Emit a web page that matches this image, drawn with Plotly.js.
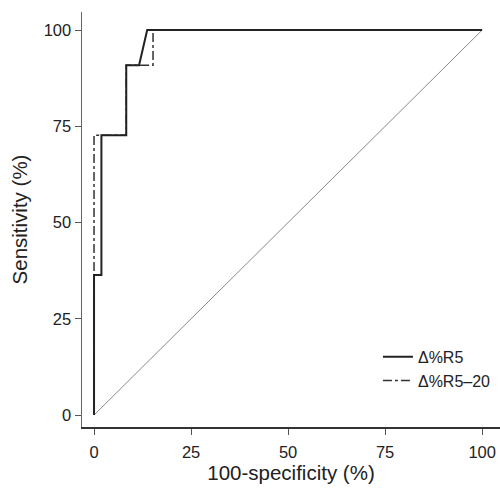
<!DOCTYPE html>
<html>
<head>
<meta charset="utf-8">
<script src="https://cdn.plot.ly/plotly-3.0.1.min.js"></script>
<style>html,body{margin:0;padding:0;background:#fff;}#chart{width:500px;height:490px;}</style>
</head>
<body>
<div id="chart"></div>
<script>
// Δ%R5 ROC curve
const r5X = [0, 0, 1.9, 1.9, 8.3, 8.3, 11.6, 13.7, 100];
const r5Y = [0, 36.4, 36.4, 72.7, 72.7, 90.9, 90.9, 100, 100];
// Δ%R5–20 ROC curve
const r520X = [0, 0, 8.3, 8.3, 15.2, 15.2, 100];
const r520Y = [0, 72.7, 72.7, 90.9, 90.9, 100, 100];
// reference diagonal
const refX = [0, 100];
const refY = [0, 100];
const tickVals = [0, 25, 50, 75, 100];
const tickText = ['0', '25', '50', '75', '100'];

const traces = [
  {x: refX, y: refY, mode: 'lines', line: {color: '#8a8a8a', width: 1}, showlegend: false, hoverinfo: 'skip'},
  {x: r520X, y: r520Y, mode: 'lines', name: 'Δ%R5–20', line: {color: '#333', width: 1.5, dash: 'dashdot'}},
  {x: r5X, y: r5Y, mode: 'lines', name: 'Δ%R5', line: {color: '#222', width: 2}}
];

const axisCommon = {
  showgrid: false, zeroline: false, showline: true, linewidth: 1.5,
  ticks: 'outside', ticklen: 6, tickwidth: 1, tickcolor: '#555',
  tickfont: {family: 'Liberation Sans, Arial, sans-serif', size: 16.5, color: '#222'},
  tickvals: tickVals, ticktext: tickText
};

const layout = {
  width: 500, height: 490,
  margin: {l: 82, r: 0, t: 12, b: 63},
  paper_bgcolor: '#fff', plot_bgcolor: '#fff',
  font: {family: 'Liberation Sans, Arial, sans-serif', color: '#222'},
  xaxis: Object.assign({}, axisCommon, {
    range: [-3.1, 104.6], linecolor: '#333', ticklabelstandoff: 4,
    title: {text: '100-specificity (%)', font: {size: 20.5, color: '#222'}, standoff: 4}
  }),
  yaxis: Object.assign({}, axisCommon, {
    range: [-3.1, 104.7], linecolor: '#666',
    title: {text: 'Sensitivity (%)', font: {size: 20.5, color: '#222'}, standoff: 10}
  }),
  legend: {
    x: 0.708, y: 0.21, xanchor: 'left', yanchor: 'top',
    traceorder: 'reversed', itemwidth: 30,
    font: {size: 16, color: '#222'}, bgcolor: 'rgba(0,0,0,0)', tracegroupgap: 0
  },
  showlegend: true
};

Plotly.newPlot('chart', traces, layout, {displayModeBar: false, staticPlot: true});
</script>
</body>
</html>
